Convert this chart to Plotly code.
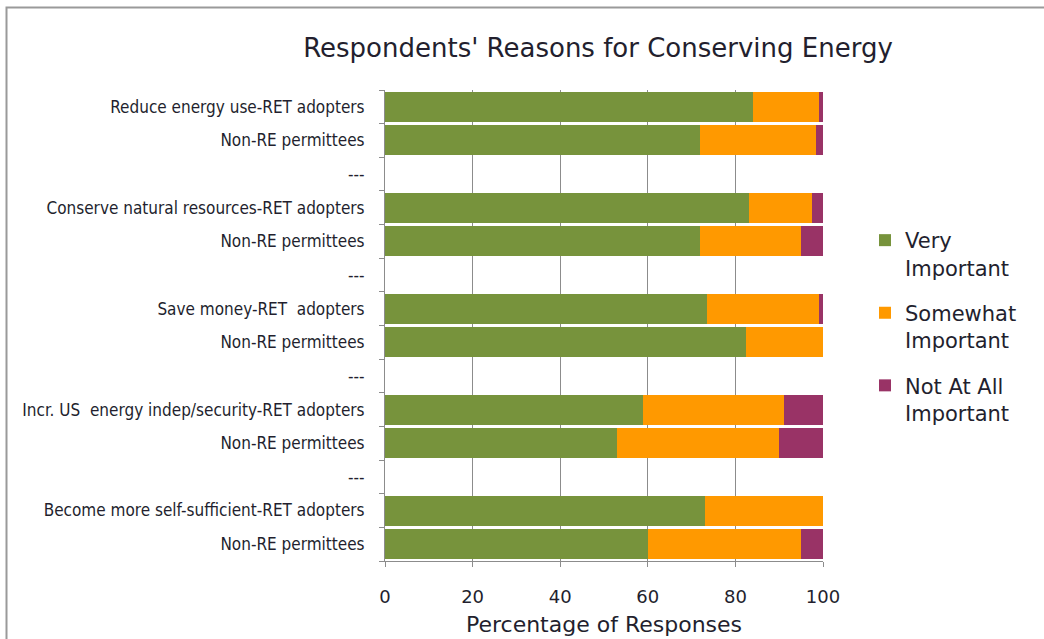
import plotly.graph_objects as go

# Row labels, top to bottom ("---" rows are spacers between reasons)
row_labels = [
    "Reduce energy use-RET adopters", "Non-RE permittees", "---",
    "Conserve natural resources-RET adopters", "Non-RE permittees", "---",
    "Save money-RET  adopters", "Non-RE permittees", "---",
    "Incr. US  energy indep/security-RET adopters", "Non-RE permittees", "---",
    "Become more self-sufficient-RET adopters", "Non-RE permittees",
]

# Percentage of responses per importance level
very_important = [84, 72, None, 83, 72, None, 73.5, 82.5, None, 59, 53, None, 73, 60]
somewhat_important = [15, 26.5, None, 14.5, 23, None, 25.5, 17.5, None, 32, 37, None, 27, 35]
not_important = [1, 1.5, None, 2.5, 5, None, 1, 0, None, 9, 10, None, 0, 5]

series_names = ["Very<br>Important", "Somewhat<br>Important", "Not At All<br>Important"]
series_colors = ["#77933C", "#FF9900", "#993366"]
x_ticks = [0, 20, 40, 60, 80, 100]

positions = list(range(len(row_labels)))

fig = go.Figure()
for i, (name, vals, color) in enumerate(
    zip(series_names, [very_important, somewhat_important, not_important], series_colors)
):
    fig.add_trace(go.Bar(
        y=positions, x=vals, name=name, orientation="h",
        marker=dict(color=color, line=dict(width=0)),
        legendgroup=f"g{i}",
    ))

W, H = 1044, 639
L, R, T, B = 385, 823, 90, 561

label_font = "DejaVu Sans Condensed, DejaVu Sans, sans-serif"
main_font = "DejaVu Sans, Verdana, sans-serif"
ink = "#231f2e"

fig.update_layout(
    width=W, height=H,
    barmode="stack", bargap=0.11,
    paper_bgcolor="white", plot_bgcolor="white",
    margin=dict(l=L, r=W - R, t=T, b=H - B, pad=0),
    title=dict(
        text="Respondents' Reasons for Conserving Energy",
        x=598 / W, xanchor="center", xref="container",
        y=1 - 48 / H, yanchor="middle", yref="container",
        font=dict(family=main_font, size=26, color=ink),
    ),
    legend=dict(
        x=865 / W, xref="container", xanchor="left",
        y=1 - 220 / H, yref="container", yanchor="top",
        font=dict(family=main_font, size=21, color=ink),
        valign="top", tracegroupgap=15, itemwidth=30,
        bgcolor="rgba(0,0,0,0)",
    ),
    xaxis=dict(
        range=[0, 100], tickvals=x_ticks, ticktext=[str(v) for v in x_ticks],
        showgrid=True, gridcolor="#8c8c8c", gridwidth=1,
        showline=True, linecolor="#8c8c8c", linewidth=1,
        ticks="outside", ticklen=5, tickcolor="#8c8c8c",
        ticklabelstandoff=14,
        tickfont=dict(family=main_font, size=18, color=ink),
        title=dict(text="Percentage of Responses", standoff=11,
                   font=dict(family=main_font, size=22, color=ink)),
        zeroline=False, fixedrange=True, automargin=False,
    ),
    yaxis=dict(
        range=[len(row_labels) - 0.5, -0.5],
        tickvals=positions, ticktext=row_labels,
        ticks="", ticklabelstandoff=16,
        minor=dict(tickvals=[p - 0.5 for p in positions] + [len(row_labels) - 0.5],
                   ticks="outside", ticklen=5, tickcolor="#8c8c8c", showgrid=False),
        showgrid=False, showline=True, linecolor="#8c8c8c", linewidth=1,
        tickfont=dict(family=label_font, size=17, color=ink),
        zeroline=False, fixedrange=True, automargin=False,
    ),
    shapes=[dict(
        type="rect", xref="paper", yref="paper",
        x0=(6.5 - L) / (R - L), x1=(1070 - L) / (R - L),
        y0=(B - 660) / (B - T), y1=(B - 7.5) / (B - T),
        line=dict(color="#9a9a9a", width=2), fillcolor="rgba(0,0,0,0)",
        layer="below",
    )],
)

fig.write_html("out.html")
